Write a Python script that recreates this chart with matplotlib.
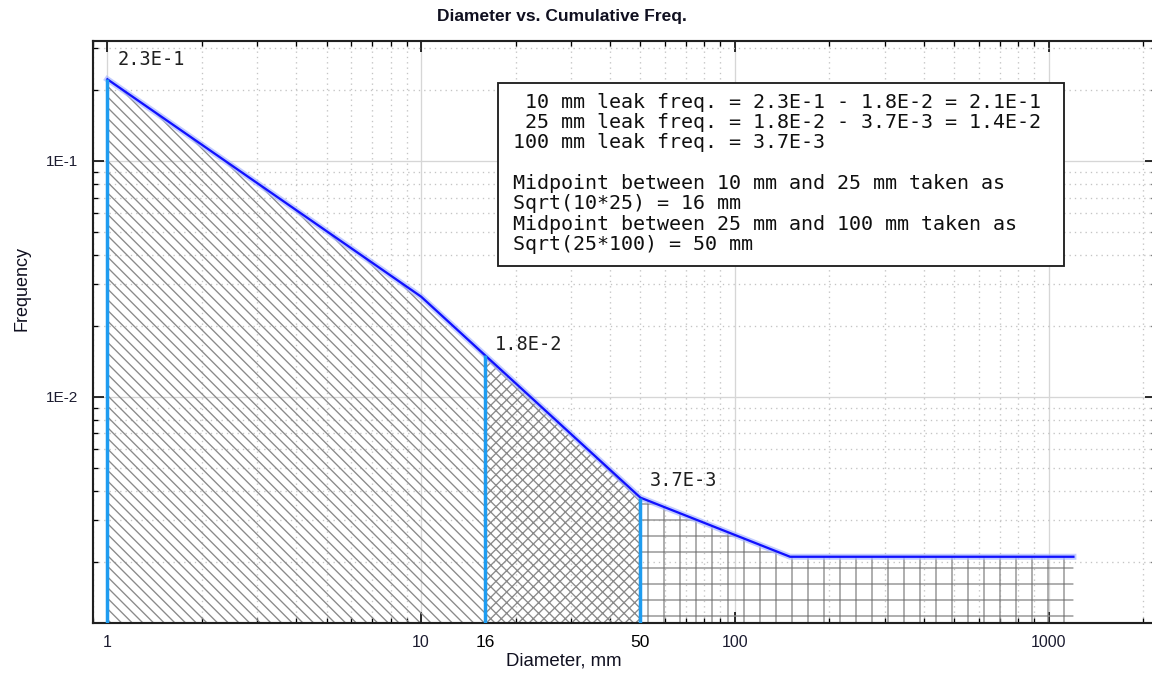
import numpy as np
import matplotlib
matplotlib.use("Agg")
import matplotlib.pyplot as plt
from matplotlib.ticker import FixedLocator, FixedFormatter, LogLocator, NullFormatter
from matplotlib.patches import Rectangle
from matplotlib import font_manager

# ---------------- data ----------------
diameters = [1, 10, 50, 150, 1200]                 # mm
cum_freq = [0.222, 0.0266, 0.00374, 0.0021, 0.0021]  # cumulative frequency
boundaries = [1, 16, 50, 1200]                     # region limits (mm)
region_hatches = ['\\\\\\', 'xxx', '+']
marker_x = [1, 16, 50]
marker_labels = ['2.3E-1', '1.8E-2', '3.7E-3']
x_major = [1, 10, 100, 1000]
x_major_labels = ['1', '10', '100', '1000']
x_extra = [16, 50]
x_extra_labels = ['16', '50']
y_major = [1e-3, 1e-2, 1e-1]
y_major_labels = ['1E-3', '1E-2', '1E-1']
box_lines = [
    " 10 mm leak freq. = 2.3E-1 - 1.8E-2 = 2.1E-1",
    " 25 mm leak freq. = 1.8E-2 - 3.7E-3 = 1.4E-2",
    "100 mm leak freq. = 3.7E-3",
    "",
    "Midpoint between 10 mm and 25 mm taken as",
    "Sqrt(10*25) = 16 mm",
    "Midpoint between 25 mm and 100 mm taken as",
    "Sqrt(25*100) = 50 mm",
]
title = "Diameter vs. Cumulative Freq."
xlabel = "Diameter, mm"
ylabel = "Frequency"

# ---------------- style ----------------
W, H, DPI = 1152, 682, 96
plt.rcParams['hatch.linewidth'] = 1.0
avail = {f.name for f in font_manager.fontManager.ttflist}
has_narrow = 'Liberation Sans Narrow' in avail
narrow = 'Liberation Sans Narrow' if has_narrow else 'Liberation Sans'
sans = 'Liberation Sans'
mono = 'DejaVu Sans Mono'

fig = plt.figure(figsize=(W / DPI, H / DPI), dpi=DPI)
L, R, T, B = 93, 1156, 41, 623
ax = fig.add_axes([L / W, 1 - B / H, (R - L) / W, (B - T) / H])
ax.set_xscale('log')
ax.set_yscale('log')
ax.set_xlim(0.9, 2200)
ax.set_ylim(1.1e-3, 0.3225)
ymin = ax.get_ylim()[0]

lx = np.log10(diameters)
ly = np.log10(cum_freq)


def curve(x):
    return 10 ** np.interp(np.log10(x), lx, ly)


# hatched regions
for (b0, b1), hatch in zip(zip(boundaries[:-1], boundaries[1:]), region_hatches):
    xs = np.array(sorted({b0, b1} | {d for d in diameters if b0 < d < b1}), dtype=float)
    ax.fill_between(xs, ymin, curve(xs), facecolor='none', edgecolor='#8a8a8a',
                    hatch=hatch, linewidth=0, zorder=2)

# curve with glow
ax.plot(diameters, cum_freq, color='#a9b8ff', lw=4.5, alpha=0.7, zorder=3,
        solid_joinstyle='round')
ax.plot(diameters, cum_freq, color='#1010ff', lw=1.7, zorder=4)

# vertical markers
mx = np.array(marker_x, dtype=float)
ax.vlines(mx, ymin, curve(mx), color='#1e9cf0', lw=2.6, zorder=5)

offsets = [(10, 20), (10, 11), (9, 17)]
for x, lab, off in zip(mx, marker_labels, offsets):
    ax.annotate(lab, (x, curve(x)), xytext=off, textcoords='offset pixels',
                ha='left', va='center', family=mono, fontsize=14, color='#202020',
                zorder=6)

# axes ticks / grid
ax.xaxis.set_major_locator(FixedLocator(x_major))
ax.xaxis.set_major_formatter(FixedFormatter(x_major_labels))
ax.xaxis.set_minor_locator(LogLocator(base=10, subs=np.arange(2, 10)))
ax.xaxis.set_minor_formatter(NullFormatter())
ax.yaxis.set_major_locator(FixedLocator(y_major))
ax.yaxis.set_major_formatter(FixedFormatter(y_major_labels))
ax.yaxis.set_minor_locator(LogLocator(base=10, subs=np.arange(2, 10)))
ax.yaxis.set_minor_formatter(NullFormatter())

ax.grid(which='major', color='#d6d6d6', lw=1.0, ls='-', zorder=0)
ax.grid(which='minor', color='#c4c4c4', lw=1.0, ls=(0, (1, 3)), zorder=0)
ax.set_axisbelow(True)
ax.tick_params(which='both', direction='in', top=True, right=True, colors='black',
               labelcolor='#1c1c30')
ax.tick_params(axis='x', which='major', length=8, width=1.2, labelsize=12, pad=9)
ax.tick_params(axis='y', which='major', length=8, width=1.2, labelsize=11.5, pad=11)
ax.tick_params(which='minor', length=4, width=1.0)
for s in ax.spines.values():
    s.set_linewidth(1.6)
    s.set_color('#202020')
for t in ax.get_xticklabels() + ax.get_yticklabels():
    t.set_family(sans)

# extra x labels (16, 50)
trans = ax.get_xaxis_transform()
for x, lab in zip(x_extra, x_extra_labels):
    ax.text(x, -0.02, lab, transform=trans, ha='center', va='top', family=sans,
            fontsize=13, color='black')

# titles
fig.text(562 / W, 1 - 17 / H, title, ha='center', va='center', family=narrow,
         fontweight='bold', fontsize=15 if has_narrow else 13, color='#101020')
fig.text(564 / W, 1 - 661 / H, xlabel, ha='center', va='center', family=sans,
         fontsize=14, color='#101020')
fig.text(22 / W, 1 - 288 / H, ylabel, ha='center', va='center', rotation=90,
         family=sans, fontsize=13.5, color='#101020')

# info box
bx0, by0, bx1, by1 = 498, 83, 1064, 266
fig.patches.append(Rectangle((bx0 / W, 1 - by1 / H), (bx1 - bx0) / W, (by1 - by0) / H,
                             transform=fig.transFigure, facecolor='white',
                             edgecolor='#202020', lw=1.4, zorder=10))
for i, line in enumerate(box_lines):
    fig.text(513 / W, 1 - (102 + 20.4 * i) / H, line, ha='left', va='center',
             family=mono, fontsize=15, color='#101010', zorder=11)

fig.savefig('out.png', dpi=DPI)
